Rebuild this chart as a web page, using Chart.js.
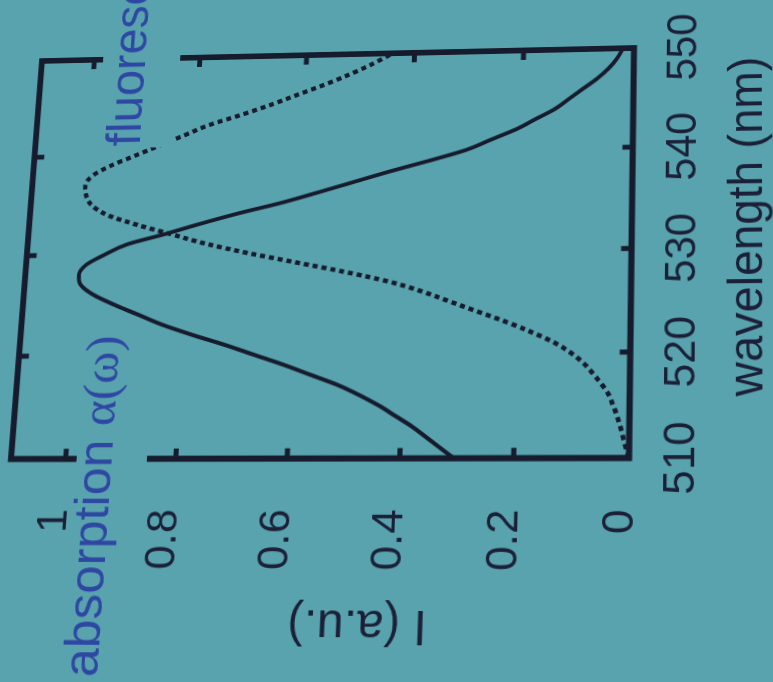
<!DOCTYPE html>
<html><head><meta charset="utf-8">
<script src="https://cdn.jsdelivr.net/npm/chart.js@4"></script>
<style>
html,body{margin:0;padding:0;width:773px;height:682px;overflow:hidden;background:#58a3ad;}
#c{position:absolute;left:0;top:0;transform-origin:0 0;}
</style></head><body>
<canvas id="c" width="740" height="800"></canvas>
<script>
// ---- data ----
const wavelengths = [510,511,512,513,514,515,516,517,518,519,520,521,522,523,524,525,526,527,528,529,530,
                     531,532,533,534,535,536,537,538,539,540,541,542,543,544,545,546,547,548,549,550];
const absorption = [0.305,0.33,0.355,0.38,0.41,0.44,0.475,0.515,0.565,0.615,0.67,0.725,0.785,0.84,0.885,0.93,0.97,0.995,1.0,0.988,0.955,
                    0.915,0.845,0.78,0.71,0.632,0.565,0.5,0.435,0.365,0.30,0.255,0.21,0.175,0.14,0.115,0.09,0.065,0.045,0.03,0.02];
const fluorescence = [0.0,0.006,0.011,0.016,0.022,0.029,0.037,0.05,0.065,0.082,0.105,0.135,0.175,0.22,0.27,0.32,0.37,0.43,0.51,0.6,0.69,
                      0.77,0.835,0.9,0.955,0.985,0.997,1.0,0.988,0.955,0.91,0.865,0.82,0.775,0.715,0.66,0.61,0.56,0.515,0.475,0.44];
const xTickValues = [510,520,530,540,550];
const xTickLabels = ['510','520','530','540','550'];
const yTickValues = [0,0.2,0.4,0.6,0.8,1];
const yTickLabels = ['0','0.2','0.4','0.6','0.8','1'];
const xTitle = 'wavelength (nm)';
const yTitle = 'I (a.u.)';
const absLabel = 'absorption ';
const absSymbol = '\u03B1(\u03C9)';
const fluoLabel = 'fluorescence';

// ---- style ----
const INK = '#171b2e';
const TXT = '#1b2038';
const BLUE = '#2e47a3';
const BG = '#58a3ad';
const SANS = "'Liberation Sans', Arial, sans-serif";
const SERIF = "'Liberation Serif', 'Times New Roman', serif";
// where the photographed plot-box corners sit (photo perspective): [510,0],[550,0],[510,top],[550,top]
const photoCorners = [[629, 458], [634, 48], [11, 459], [42, 61]];

const framePlugin = {
  id: 'frame',
  afterDatasetsDraw(chart) {
    const {ctx, chartArea: a, scales: {x, y}} = chart;
    ctx.save();
    ctx.strokeStyle = INK;
    ctx.lineWidth = 6;
    ctx.lineJoin = 'miter';
    ctx.strokeRect(a.left, a.top, a.right - a.left, a.bottom - a.top);
    ctx.lineWidth = 5;
    ctx.lineCap = 'butt';
    const L = 10;
    ctx.beginPath();
    xTickValues.slice(1, -1).forEach(v => {
      const px = x.getPixelForValue(v);
      ctx.moveTo(px, a.bottom); ctx.lineTo(px, a.bottom - L);
      ctx.moveTo(px, a.top); ctx.lineTo(px, a.top + L);
    });
    yTickValues.slice(1).forEach(v => {
      const py = y.getPixelForValue(v);
      ctx.moveTo(a.left, py); ctx.lineTo(a.left + L, py);
      ctx.moveTo(a.right, py); ctx.lineTo(a.right - L, py);
    });
    ctx.stroke();

    // axis titles
    ctx.fillStyle = TXT;
    ctx.font = '46px ' + SANS;
    ctx.textAlign = 'center';
    ctx.textBaseline = 'middle';
    ctx.fillText(xTitle, x.getPixelForValue(532.3), a.bottom + 113);
    ctx.save();
    ctx.translate(a.left - 158, y.getPixelForValue(0.464));
    ctx.rotate(-Math.PI / 2);
    ctx.fillText(yTitle, 0, 0);
    ctx.restore();

    // series labels with background boxes (interrupt the frame)
    ctx.textBaseline = 'alphabetic';
    ctx.textAlign = 'left';
    const ax = x.getPixelForValue(510) - 210;
    const ay = y.getPixelForValue(0.916);
    ctx.font = '49px ' + SANS;
    const w1 = ctx.measureText(absLabel).width;
    ctx.font = '49px ' + SERIF;
    const w2 = ctx.measureText(absSymbol).width;
    ctx.fillStyle = BG;
    ctx.fillRect(0, ay - 35, ax + w1 + w2 + 6, 70);
    ctx.fillStyle = BLUE;
    ctx.font = '49px ' + SANS;
    ctx.fillText(absLabel, ax, ay);
    ctx.font = '49px ' + SERIF;
    ctx.fillText(absSymbol, ax + w1, ay);
    const fx = x.getPixelForValue(541.0);
    const fy = y.getPixelForValue(0.903);
    ctx.fillStyle = BG;
    ctx.fillRect(fx - 2, fy - 44, chart.width - fx + 2, 80);
    ctx.fillStyle = BLUE;
    ctx.font = '50px ' + SANS;
    ctx.fillText(fluoLabel, fx, fy);
    ctx.restore();
  }
};

// projective map from the flat chart box to the photographed box
function homography(src, dst) {
  const A = [], b = [];
  for (let i = 0; i < 4; i++) {
    const [u, v] = src[i], [X, Y] = dst[i];
    A.push([u, v, 1, 0, 0, 0, -u * X, -v * X]); b.push(X);
    A.push([0, 0, 0, u, v, 1, -u * Y, -v * Y]); b.push(Y);
  }
  const n = 8;
  for (let c = 0; c < n; c++) {
    let p = c;
    for (let r = c + 1; r < n; r++) if (Math.abs(A[r][c]) > Math.abs(A[p][c])) p = r;
    [A[c], A[p]] = [A[p], A[c]]; [b[c], b[p]] = [b[p], b[c]];
    for (let r = 0; r < n; r++) if (r !== c) {
      const f = A[r][c] / A[c][c];
      for (let k = c; k < n; k++) A[r][k] -= f * A[c][k];
      b[r] -= f * b[c];
    }
  }
  return b.map((v, i) => v / A[i][i]);
}
const photoPlugin = {
  id: 'photo',
  afterRender(chart) {
    const a = chart.chartArea;
    const src = [[a.left, a.bottom], [a.right, a.bottom], [a.left, a.top], [a.right, a.top]];
    const h = homography(src, photoCorners);
    chart.canvas.style.transform =
      `matrix3d(${h[0]},${h[3]},0,${h[6]},${h[1]},${h[4]},0,${h[7]},0,0,1,0,${h[2]},${h[5]},0,1)`;
  }
};

new Chart(document.getElementById('c'), {
  type: 'line',
  data: {
    labels: wavelengths,
    datasets: [
      { label: 'absorption', data: wavelengths.map((w, i) => ({x: w, y: absorption[i]})),
        borderColor: INK, borderWidth: 4, pointRadius: 0, cubicInterpolationMode: 'monotone', fill: false },
      { label: 'fluorescence', data: wavelengths.map((w, i) => ({x: w, y: fluorescence[i]})),
        borderColor: INK, borderWidth: 4.5, borderDash: [5, 4], borderCapStyle: 'butt', pointRadius: 0,
        cubicInterpolationMode: 'monotone', fill: false }
    ]
  },
  options: {
    responsive: false,
    animation: false,
    devicePixelRatio: 1,
    layout: { padding: { left: 116, right: 106, top: 18, bottom: 97 } },
    plugins: { legend: { display: false }, tooltip: { enabled: false } },
    scales: {
      x: {
        type: 'linear', min: 510, max: 550, position: 'bottom',
        afterBuildTicks: s => { s.ticks = xTickValues.map(v => ({value: v})); },
        grid: { display: false, drawTicks: true, tickLength: 25 },
        border: { display: false },
        ticks: { padding: 0, color: TXT, font: { family: SANS, size: 42 },
                 maxRotation: 0, autoSkip: false,
                 callback: (v, i) => xTickLabels[i] },
        title: { display: false }
      },
      y: {
        type: 'linear', min: 0, max: 1.1, position: 'left',
        afterBuildTicks: s => { s.ticks = yTickValues.map(v => ({value: v})); },
        grid: { display: false, drawTicks: true, tickLength: 49 },
        border: { display: false },
        ticks: { padding: 0, labelOffset: -7, color: TXT, font: { family: SANS, size: 42 },
                 autoSkip: false, callback: (v, i) => yTickLabels[i] },
        title: { display: false }
      }
    }
  },
  plugins: [framePlugin, photoPlugin]
});
</script>
</body></html>
